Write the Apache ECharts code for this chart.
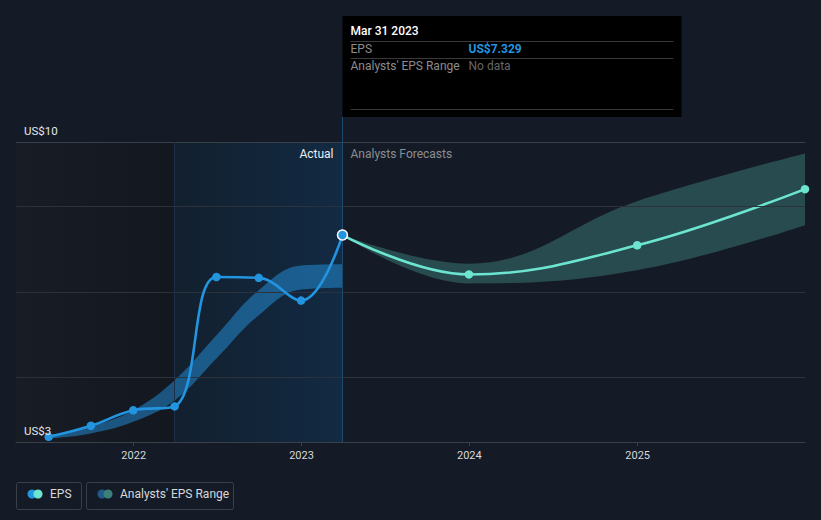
<!DOCTYPE html>
<html><head><meta charset="utf-8">
<script src="https://cdn.jsdelivr.net/npm/echarts@6/dist/echarts.min.js"></script>
<style>html,body{margin:0;padding:0;background:#151b26;}#c{width:821px;height:520px;}</style>
</head><body><div id="c"></div>
<script>
// ---- data ----
const epsDates = ['2021-06-30','2021-09-30','2021-12-31','2022-03-31','2022-06-30','2022-09-30','2022-12-31','2023-03-31'];
const epsValues = [2.62, 2.88, 3.24, 3.33, 6.35, 6.33, 5.80, 7.329];
const histRangeDates = ['2021-06-30','2021-09-30','2021-12-31','2022-03-31','2022-06-30','2022-09-30','2022-12-31','2023-03-31'];
const histRangeLow = [2.58, 2.70, 2.97, 3.47, 4.45, 5.46, 6.06, 6.10];
const histRangeHigh = [2.66, 2.87, 3.24, 3.94, 4.99, 6.04, 6.62, 6.65];
const fcDates = ['2023-03-31','2023-12-31','2024-12-31','2025-12-31'];
const fcValues = [7.329, 6.41, 7.09, 8.40];
const fcLow = [7.329, 6.20, 6.51, 7.56];
const fcHigh = [7.329, 6.66, 8.12, 9.23];
const yTickValues = [2.5, 9.5];
const yGridValues = [4, 6, 8, 9.5];
const xTickLabels = ['2022-01-01','2023-01-01','2024-01-01','2025-01-01'];
const tipDate = 'Mar 31 2023';
const tipEps = 'US$7.329';

const ts = d => new Date(d + 'T00:00:00Z').getTime();
const pair = (ds, vs) => ds.map((d, i) => [ts(d), vs[i]]);
// value-first rows so the stack is applied to the value dimension
const vFirst = (ds, vs) => ds.map((d, i) => [vs[i], ts(d)]);
const vDiff = (ds, lo, hi) => ds.map((d, i) => [+(hi[i] - lo[i]).toFixed(4), ts(d)]);

const xMin = ts('2021-04-20');
const xMax = ts('2025-12-31');
const FONT = 'Roboto, "Noto Sans", sans-serif';

const chart = echarts.init(document.getElementById('c'), null, {renderer: 'svg', width: 821, height: 520});

const bandBase = {type: 'line', smooth: 0.4, symbol: 'none', silent: true, z: 3,
  encode: {x: 1, y: 0}, lineStyle: {opacity: 0}};
const LG = (a, b) => new echarts.graphic.LinearGradient(0, 0, 1, 0, [{offset: 0, color: a}, {offset: 1, color: b}]);

chart.setOption({
  backgroundColor: '#151b26',
  animation: false,
  grid: {left: 16, right: 16, top: 142, bottom: 78},
  xAxis: {
    type: 'value', min: xMin, max: xMax, scale: true, z: 10,
    axisLine: {show: true, lineStyle: {color: '#3a404a', width: 1}},
    axisTick: {show: true, length: 4, lineStyle: {color: '#3a404a'}, customValues: xTickLabels.map(ts)},
    axisLabel: {color: '#d6d8db', fontSize: 11, fontFamily: FONT, margin: 8,
      customValues: xTickLabels.map(ts),
      formatter: v => String(new Date(v).getUTCFullYear())},
    splitLine: {show: false}
  },
  yAxis: {
    type: 'value', min: 2.5, max: 9.5, z: 10,
    axisLine: {show: false}, axisTick: {show: false}, splitLine: {show: false},
    axisLabel: {inside: true, margin: 8, color: '#e6e7e9', fontSize: 11.5, fontFamily: FONT,
      verticalAlign: 'bottom', padding: [0, 0, 5, 0],
      customValues: yTickValues,
      formatter: v => 'US$' + Math.round(v)}
  },
  series: [
    {
      name: 'areas', type: 'line', data: [], silent: true, z: 1,
      markArea: {silent: true, data: [
        [{xAxis: xMin, itemStyle: {color: LG('#181c25', '#13171f')}}, {xAxis: ts('2022-03-31')}],
        [{xAxis: ts('2022-03-31'), itemStyle: {color: LG('#12202e', '#122a43')}}, {xAxis: ts('2023-03-31')}]
      ]}
    },
    {
      name: 'grid', type: 'line', data: [], silent: true, z: 2,
      markLine: {silent: true, symbol: 'none', label: {show: false},
        lineStyle: {color: '#2d343e', width: 1, type: 'solid'},
        data: yGridValues.map(v => ({yAxis: v, lineStyle: {color: v === 9.5 ? '#3a404a' : '#2b323c', type: 'solid', width: 1}}))
          .concat([{xAxis: ts('2022-03-31'), lineStyle: {color: '#1c3149', width: 1, type: 'solid'}}])}
    },
    Object.assign({}, bandBase, {name: 'histLow', stack: 'hist', data: vFirst(histRangeDates, histRangeLow)}),
    Object.assign({}, bandBase, {name: "Analysts' EPS Range", stack: 'hist',
      areaStyle: {color: 'rgba(35,148,223,0.5)', opacity: 1},
      data: vDiff(histRangeDates, histRangeLow, histRangeHigh)}),
    Object.assign({}, bandBase, {name: 'fcLow', stack: 'fc', data: vFirst(fcDates, fcLow)}),
    Object.assign({}, bandBase, {name: 'fcRange', stack: 'fc',
      areaStyle: {color: 'rgba(88,200,186,0.28)', opacity: 1},
      data: vDiff(fcDates, fcLow, fcHigh)}),
    {
      name: 'EPS forecast', type: 'line', smooth: 0.4, z: 4,
      symbol: 'circle', symbolSize: (v, p) => p.dataIndex === 0 ? 0 : 8.5,
      lineStyle: {color: '#6ce5d0', width: 2.6}, itemStyle: {color: '#6ce5d0'},
      data: pair(fcDates, fcValues)
    },
    {
      name: 'EPS', type: 'line', smooth: 0.4, z: 5,
      symbol: 'circle', symbolSize: 8.5,
      lineStyle: {color: '#2394df', width: 2.6}, itemStyle: {color: '#2394df'},
      data: pair(epsDates, epsValues).map((p, i, a) => i === a.length - 1 ?
        {value: p, symbolSize: 10, itemStyle: {color: '#2394df', borderColor: '#ffffff', borderWidth: 1.5}} : p)
    }
  ]
});

// overlays anchored to data positions
const last = chart.convertToPixel({gridIndex: 0}, [ts(epsDates[epsDates.length - 1]), epsValues[epsValues.length - 1]]);
const px = Math.round(last[0]) + 0.5;
const topY = chart.convertToPixel({gridIndex: 0}, [xMin, 9.5])[1];
const botY = chart.convertToPixel({gridIndex: 0}, [xMin, 2.5])[1];
const tipL = px, tipT = 16, tipW = 339, tipH = 101;

chart.setOption({graphic: [
  {type: 'line', shape: {x1: px, y1: tipT + tipH, x2: px, y2: botY}, style: {stroke: '#1d4a70', lineWidth: 1}, z: 5, silent: true},
  {type: 'text', x: px - 9, y: topY + 12, style: {text: 'Actual', fill: '#eceef0', font: '12px ' + FONT, textAlign: 'right', textVerticalAlign: 'middle'}, z: 6},
  {type: 'text', x: px + 8, y: topY + 12, style: {text: 'Analysts Forecasts', fill: '#8a8e94', font: '12px ' + FONT, textAlign: 'left', textVerticalAlign: 'middle'}, z: 6},
  // tooltip box
  {type: 'rect', shape: {x: tipL, y: tipT, width: tipW, height: tipH}, style: {fill: '#000000'}, z: 10},
  {type: 'text', x: tipL + 8, y: 31, style: {text: tipDate, fill: '#ffffff', font: '500 12px ' + FONT, textVerticalAlign: 'middle'}, z: 11},
  {type: 'line', shape: {x1: tipL + 8, y1: 41.5, x2: tipL + tipW - 8, y2: 41.5}, style: {stroke: '#3a3a3a', lineWidth: 1}, z: 11},
  {type: 'text', x: tipL + 8, y: 49, style: {text: 'EPS', fill: '#8c8c8c', font: '12px ' + FONT, textVerticalAlign: 'middle'}, z: 11},
  {type: 'text', x: tipL + 126, y: 49, style: {text: tipEps, fill: '#2394df', font: 'bold 12px ' + FONT, textVerticalAlign: 'middle'}, z: 11},
  {type: 'line', shape: {x1: tipL + 8, y1: 58.5, x2: tipL + tipW - 8, y2: 58.5}, style: {stroke: '#3a3a3a', lineWidth: 1}, z: 11},
  {type: 'text', x: tipL + 8, y: 66, style: {text: "Analysts' EPS Range", fill: '#8c8c8c', font: '12px ' + FONT, textVerticalAlign: 'middle'}, z: 11},
  {type: 'text', x: tipL + 126, y: 66, style: {text: 'No data', fill: '#666666', font: '12px ' + FONT, textVerticalAlign: 'middle'}, z: 11},
  {type: 'line', shape: {x1: tipL + 8, y1: 109.5, x2: tipL + tipW - 8, y2: 109.5}, style: {stroke: '#3a3a3a', lineWidth: 1}, z: 11},
  // legend
  {type: 'rect', shape: {x: 16.5, y: 482.5, width: 65, height: 27, r: 2}, style: {fill: 'none', stroke: '#3a404a', lineWidth: 1}, z: 5},
  {type: 'circle', shape: {cx: 32, cy: 494, r: 4.5}, style: {fill: '#2394df'}, z: 6},
  {type: 'circle', shape: {cx: 38, cy: 494, r: 4.5}, style: {fill: '#6ce5d0'}, z: 7},
  {type: 'text', x: 50, y: 494, style: {text: 'EPS', fill: '#d6d8db', font: '12px ' + FONT, textVerticalAlign: 'middle'}, z: 6},
  {type: 'rect', shape: {x: 86.5, y: 482.5, width: 147, height: 27, r: 2}, style: {fill: 'none', stroke: '#3a404a', lineWidth: 1}, z: 5},
  {type: 'circle', shape: {cx: 102, cy: 494, r: 4.5}, style: {fill: '#1f5a8a'}, z: 6},
  {type: 'circle', shape: {cx: 108, cy: 494, r: 4.5}, style: {fill: '#3a7f79'}, z: 7},
  {type: 'text', x: 120, y: 494, style: {text: "Analysts' EPS Range", fill: '#d6d8db', font: '12px ' + FONT, textVerticalAlign: 'middle'}, z: 6}
]});
</script>
</body></html>
